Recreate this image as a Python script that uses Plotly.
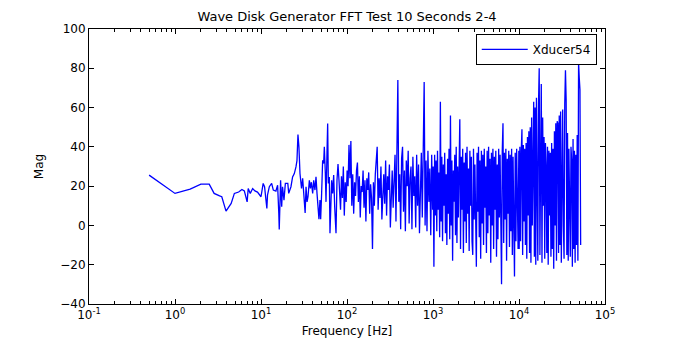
import numpy as np
import plotly.graph_objects as go

# ---- data ----
# low-frequency part: explicit (frequency [Hz], magnitude)
freq_low = [0.5, 1.0, 1.5, 2.0, 2.5, 2.85, 3.3, 3.5, 3.92, 4.5, 4.9, 5.5, 6.0, 6.4, 6.9,
            7.1, 7.5, 8.0, 8.5, 9.1, 10.0, 10.6, 11.0, 11.7, 11.9, 12.5, 13.3, 13.9, 14.9,
            15.6, 16.1, 16.3, 16.9, 17.4, 17.8, 18.5, 19.2, 20.5, 21.0, 22.3, 23.3, 24.4,
            25.5, 26.2, 26.9, 27.6, 28.4, 29.6, 30.5, 31.8, 32.6,
            33.4, 34.3, 35.2, 36.5, 37.5, 38.5, 39.9, 41.0, 42.4, 43.6, 44.8, 46.0, 47.2,
            48.5, 49.4, 50.7, 52.1, 53.5, 54.5, 56.0, 57.0, 58.5, 59.6, 60.7, 62.3, 63.4,
            64.6, 66.3, 68.1, 70.0, 71.9, 74.5, 76.5, 78.6, 80.7]
mag_low = [25.6, 16.3, 18.5, 21.0, 21.0, 16.3, 15.0, 14.6, 7.3, 11.2, 16.3, 17.0, 18.3, 17.6, 12.0,
           18.8, 16.3, 18.8, 17.6, 17.0, 14.6, 21.4, 19.7, 8.6, 15.4, 19.7, 21.4, 18.0, 17.5,
           20.5, 6.4, -2.0, 23.0, 9.5, 19.7, 12.9, 21.4, 21.4, 16.3, 19.7, 24.7, 26.4,
           29.8, 33.0, 46.3, 40.0, 26.4, 18.8, 24.0, 14.6, 6.4,
           19.7, 12.0, 14.6, 23.0, 18.8, 22.0, 16.3, 23.0, 18.0, 24.7, 16.3, 7.8, 3.2,
           12.9, 3.2, 16.3, 33.2, 31.5, 40.0, 26.4, 12.0, 36.6, 51.9, 21.4, 24.7, -4.0,
           12.9, 23.0, 16.3, 25.6, 9.5, -4.0, 23.0, 31.2, 23.0]

# 82 Hz .. 1 kHz
band_b_range = [82.0, 990.0]
mag_b = [18, 8, 25, 14, 30, 5, 22, 12, 28, 20,
         41, 24, 43, 10, 26, 6, 22, 15, 28, 32,
         12, 25, 4, 20, 17, 28, 9, 23, 2, 24,
         18, 27, 6, 21, 14, -12, 22, 10, 26, 35,
         40, 8, 24, 14, 30, 3, 22, 26, 11, 33,
         5, 25, 18, 31, -1, 20, 28, 9, 24, 36,
         2, 30, 74, 12, 26, -2, 34, 40, 7, 28,
         -3, 33, 20, 38, 1, 24, 30, -2, 35, 15,
         25, -1, 36, 10, 31, -4, 27, 37, 4, 30,
         73, 0, 33, -3, 38, 12, 29, -5, 36, 8]

# 1 kHz .. 10 kHz
band_c_range = [1005.0, 9950.0]
mag_c = [30, -21, 36, 5, 33, -3, 38, 8, 27, -6,
         63, 2, 35, -8, 31, 10, 37, -4, 26, -10,
         34, 6, 39, -7, 56, 0, 33, -18, 28, 12,
         36, -5, 40, -9, 30, 4, 38, 54, -12, 35,
         8, 39, -14, 32, 2, 37, -9, 40, 6, 29,
         -13, 38, 10, 35, -8, -15, 39, 3, 31, -11,
         -21, 37, 7, 40, -6, 33, -17, 38, 1, 36,
         -10, 39, 9, 30, -14, 38, -4, 40, 5, 34,
         -19, 37, 0, 39, -12, 35, 8, 38, -16, 31,
         -7, 39, 4, 36, -13, -30, 38, 52, -9, 37,
         3, 39, -18, 34, 6, 38, -11, 36, -3, 39,
         -15, 35, 2, -26, 37, -8, 39, 10, -12, 38]

# 10 kHz .. 52 kHz
band_d_range = [10050.0, 52100.0]
mag_d = [-12, 40, -8, 38, 49, -15, 41, 2, 39, -10,
         42, -17, 45, 5, 48, -14, 50, -19, 55, 0,
         58, 63, -16, 60, -20, 65, 20, -18, 62, 80,
         -15, 70, 72, -19, 55, 10, 45, -17, 42, 30,
         -14, 40, -20, 38, 5, 37, -16, 42, -12, 39,
         -22, 48, 0, 52, -18, 53, 52, -14, 56, -10,
         58, -19, 45, 59, 0, -17, 62, 79, 64, -15,
         47, -18, 39, 20, -16, 40, 33, -21, 44, -12,
         38, -19, 36, -10, 46, -18, 83, 75, 69, -10]

y_ticks = [-40, -20, 0, 20, 40, 60, 80, 100]
x_tick_exponents = [-1, 0, 1, 2, 3, 4, 5]

# ---- assemble ----
freqs = list(freq_low)
mags = list(mag_low)
for rng, vals in [(band_b_range, mag_b), (band_c_range, mag_c), (band_d_range, mag_d)]:
    freqs += list(np.geomspace(rng[0], rng[1], len(vals)))
    mags += list(vals)

font_family = "DejaVu Sans"

fig = go.Figure()
fig.add_trace(go.Scatter(x=freqs, y=mags, mode="lines", name="Xducer54",
                         line=dict(color="#0000FF", width=1.3)))

fig.update_layout(
    width=673, height=345,
    margin=dict(l=89, r=68, t=29, b=41),
    paper_bgcolor="white", plot_bgcolor="white",
    font=dict(family=font_family, size=12, color="black"),
    title=dict(text="Wave Disk Generator FFT Test 10 Seconds 2-4",
               x=(89 + 258) / 673, xanchor="center",
               y=1 - 16 / 345, yanchor="middle",
               font=dict(family=font_family, size=13, color="black")),
    showlegend=True,
    legend=dict(x=0.984, xanchor="right", y=0.982, yanchor="top",
                bgcolor="white", bordercolor="black", borderwidth=1,
                font=dict(family=font_family, size=12, color="black"),
                itemwidth=46, tracegroupgap=0),
)

fig.update_xaxes(
    type="log", range=[-1, 5], automargin=False,
    tickvals=[10.0 ** e for e in x_tick_exponents],
    ticktext=["10<sup>%d</sup>" % e for e in x_tick_exponents],
    ticks="inside", ticklen=5, tickcolor="black",
    showline=True, linecolor="black", linewidth=1, mirror="ticks",
    showgrid=False, zeroline=False,
    minor=dict(ticks="inside", ticklen=3, tickcolor="black", dtick="D1", showgrid=False),
    title=dict(text="Frequency [Hz]", standoff=5, font=dict(family=font_family, size=12)),
)
fig.update_yaxes(
    range=[-40, 100], tickvals=y_ticks, automargin=False,
    ticks="inside", ticklen=5, tickcolor="black",
    showline=True, linecolor="black", linewidth=1, mirror="ticks",
    showgrid=False, zeroline=False,
    title=dict(text="Mag", standoff=14, font=dict(family=font_family, size=12)),
)

fig.write_html("out.html")
